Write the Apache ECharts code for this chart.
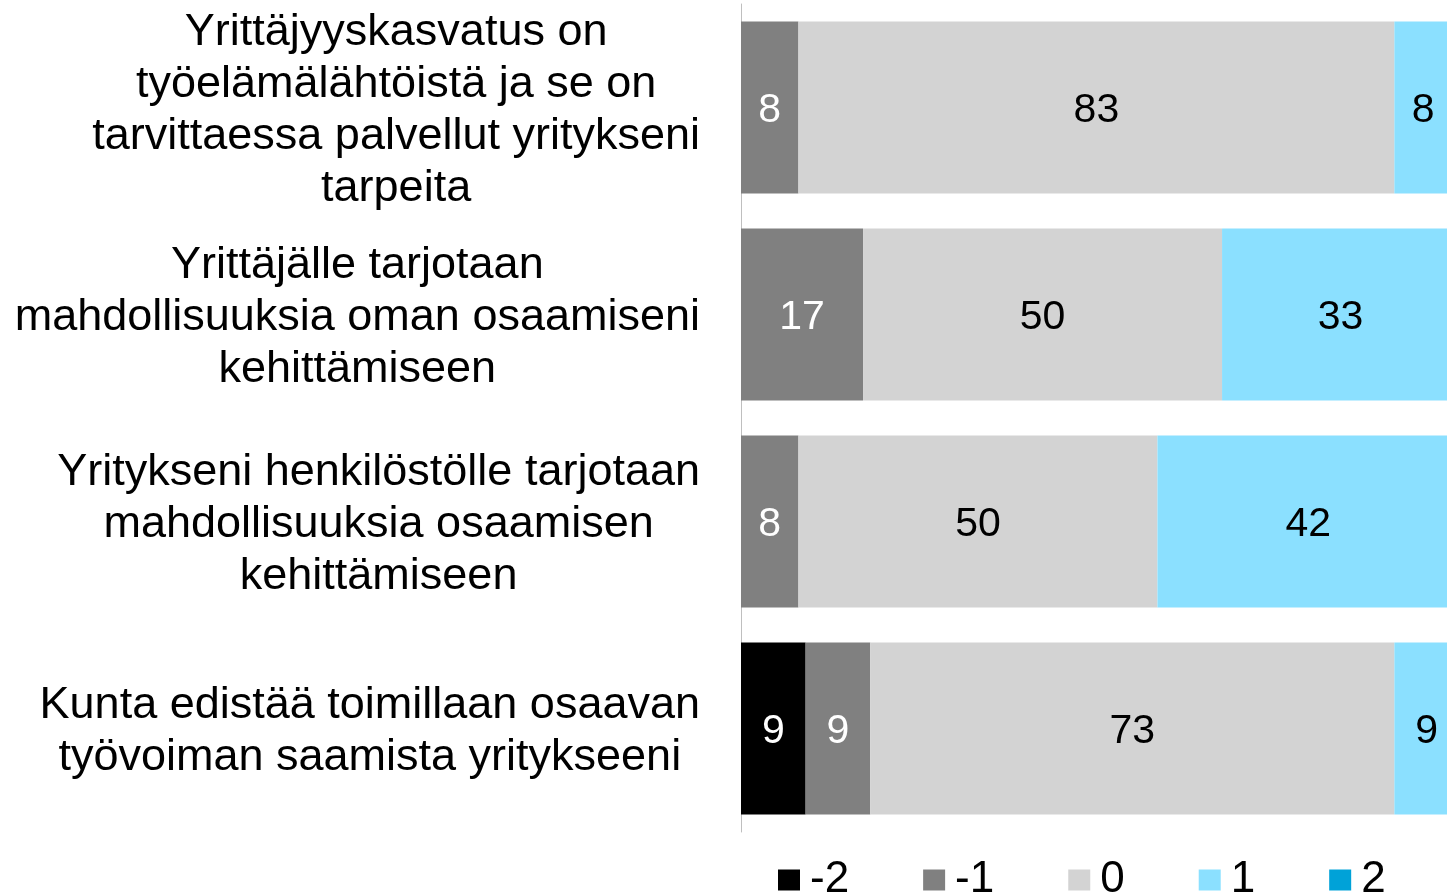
<!DOCTYPE html>
<html>
<head>
<meta charset="utf-8">
<script src="https://cdn.jsdelivr.net/npm/echarts@6/dist/echarts.min.js"></script>
<style>
  html, body { margin: 0; padding: 0; background: #fff; }
  #chart { width: 1447px; height: 892px; }
</style>
</head>
<body>
<div id="chart"></div>
<script>
// kysymykset (ylhäältä alas)
var categories = [
    'Yrittäjyyskasvatus on\ntyöelämälähtöistä ja se on\ntarvittaessa palvellut yritykseni\ntarpeita',
    'Yrittäjälle tarjotaan\nmahdollisuuksia oman osaamiseni\nkehittämiseen',
    'Yritykseni henkilöstölle tarjotaan\nmahdollisuuksia osaamisen\nkehittämiseen',
    'Kunta edistää toimillaan osaavan\ntyövoiman saamista yritykseeni'
];
var seriesNames = ['-2', '-1', '0', '1', '2'];
var valMinus2 = [0, 0, 0, 9];
var valMinus1 = [8, 17, 8, 9];
var val0 = [83, 50, 50, 73];
var val1 = [8, 33, 42, 9];
var val2 = [0, 0, 0, 0];

var colors = ['#000000', '#808080', '#d3d3d3', '#8be0ff', '#00a2d8'];
var labelColors = ['#ffffff', '#ffffff', '#000000', '#000000', '#000000'];
var font = '"Liberation Sans", Arial, sans-serif';

var myChart = echarts.init(document.getElementById('chart'));

var allValues = [valMinus2, valMinus1, val0, val1, val2];
var series = [];
allValues.forEach(function (vals, i) {
    series.push({
        name: seriesNames[i],
        type: 'bar',
        stack: 'total',
        barWidth: 172,
        itemStyle: { color: colors[i] },
        label: {
            show: true,
            position: 'inside',
            offset: [0, 3],
            color: labelColors[i],
            fontFamily: font,
            fontSize: 41,
            formatter: function (p) {
                return p.value ? p.value : '';
            }
        },
        emphasis: { disabled: true },
        data: vals
    });
});

var option = {
    animation: false,
    grid: {
        left: 741,
        top: 4,
        width: 718,
        height: 828,
        containLabel: false,
        outerBoundsMode: 'none'
    },
    legend: {
        data: seriesNames,
        left: 773,
        top: 853,
        icon: 'rect',
        itemWidth: 22,
        itemHeight: 21,
        itemGap: 74,
        textStyle: {
            fontFamily: font,
            fontSize: 44,
            color: '#000',
            lineHeight: 44,
            padding: [0, 0, 0, 5]
        }
    },
    xAxis: {
        type: 'value',
        min: 0,
        max: 100,
        show: false
    },
    yAxis: {
        type: 'category',
        inverse: true,
        data: categories,
        axisLine: { show: true, lineStyle: { color: '#bfbfbf', width: 1 } },
        axisTick: { show: false },
        axisLabel: {
            margin: 41,
            align: 'right',
            padding: [6, 0, 0, 0],
            formatter: function (v) {
                return v.split('\n').map(function (l) {
                    return '{c|' + l + '}';
                }).join('\n');
            },
            rich: {
                c: {
                    align: 'center',
                    fontFamily: font,
                    fontSize: 45,
                    lineHeight: 52,
                    color: '#000'
                }
            }
        }
    },
    series: series
};

myChart.setOption(option);
</script>
</body>
</html>
